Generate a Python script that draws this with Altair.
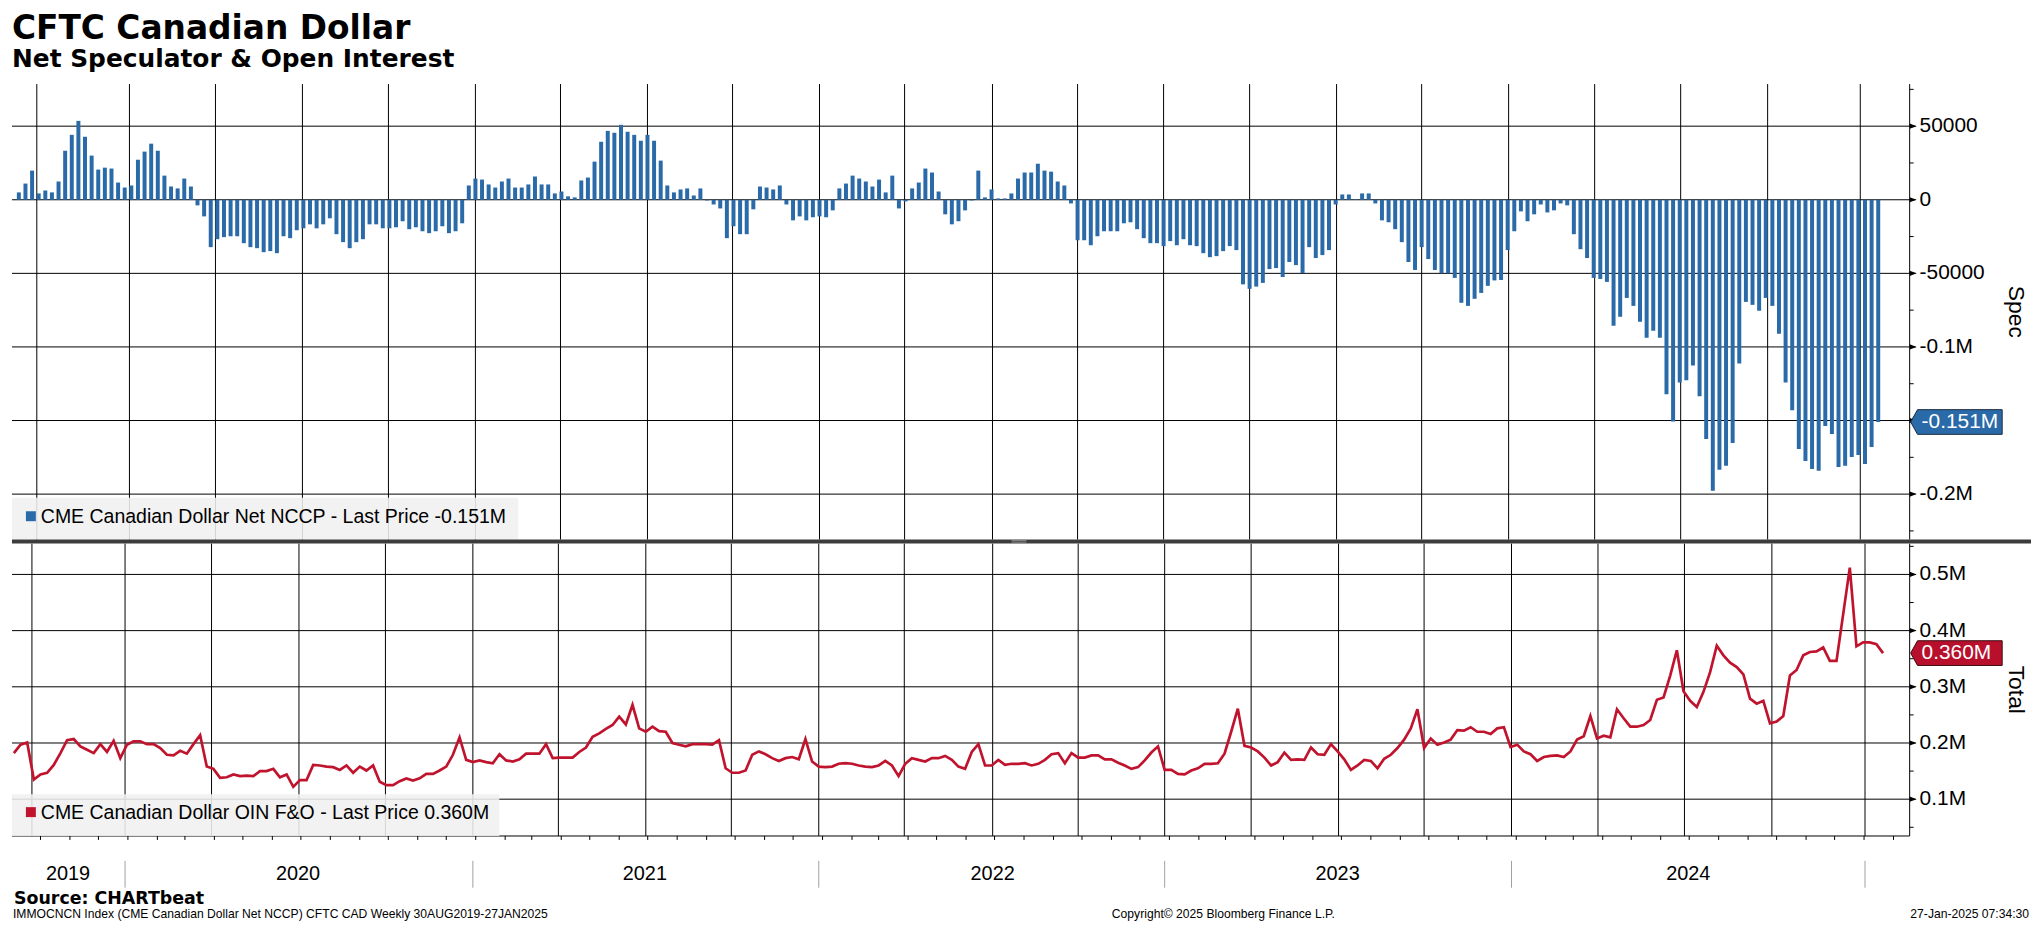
import altair as alt
import pandas as pd

# ---------------- data ----------------
# Net speculative position, thousands of contracts (weekly, Tuesdays)
spec_k = [
    5.0, 11.0, 19.8, 4.3, 6.3, 5.0, 12.4, 33.3, 44.1, 53.6,
    42.8, 30.0, 20.5, 21.8, 21.2, 11.7, 8.3, 9.7, 27.2, 32.7,
    38.1, 33.3, 16.4, 9.0, 7.7, 14.4, 9.0, -3.8, -11.3, -32.2,
    -26.8, -25.4, -24.8, -24.8, -29.5, -32.2, -32.9, -35.6, -34.9, -36.3,
    -24.8, -26.1, -20.7, -19.4, -16.7, -19.4, -16.7, -12.6, -23.4, -28.8,
    -32.9, -28.8, -26.8, -16.7, -16.7, -19.4, -19.4, -18.7, -14.6, -20.0,
    -18.7, -21.4, -22.7, -21.4, -18.0, -22.7, -21.4, -16.0, 9.7, 14.4,
    13.7, 10.4, 8.3, 12.4, 14.4, 8.3, 8.3, 10.4, 15.8, 10.4,
    10.4, 4.3, 5.6, 2.3, 1.6, 13.1, 15.1, 25.9, 39.4, 46.8,
    45.5, 50.9, 46.2, 44.1, 40.1, 44.1, 40.1, 26.6, 9.7, 5.0,
    7.0, 7.7, 2.9, 7.7, -0.5, -3.2, -5.9, -26.1, -18.0, -23.4,
    -23.4, -6.5, 9.0, 8.3, 7.0, 9.7, -3.2, -14.0, -11.3, -14.0,
    -11.9, -11.3, -11.9, -7.2, 7.7, 11.0, 16.4, 14.4, 12.4, 9.0,
    13.7, 5.0, 16.4, -5.9, -1.1, 7.7, 11.7, 21.2, 18.5, 5.6,
    -9.9, -16.7, -14.6, -7.2, -0.5, 19.8, 1.6, 7.0, 0.9, 0.9,
    4.3, 14.4, 18.5, 18.5, 24.5, 19.8, 19.1, 12.4, 9.7, -2.5,
    -27.5, -27.5, -30.9, -24.8, -21.4, -21.4, -21.4, -16.0, -15.3, -20.0,
    -26.1, -29.5, -29.5, -31.5, -28.1, -30.9, -26.8, -30.9, -31.5, -36.3,
    -39.0, -38.3, -34.9, -31.5, -34.2, -57.5, -60.5, -59.0, -56.5, -47.1,
    -46.4, -52.5, -42.3, -44.4, -49.8, -32.2, -39.6, -37.6, -34.2, -3.2,
    3.6, 3.6, 0.4, 4.3, 4.3, -2.5, -14.0, -15.3, -20.0, -28.8,
    -42.3, -47.7, -32.2, -40.3, -47.7, -50.0, -50.0, -53.1, -70.0, -72.1,
    -67.3, -63.3, -58.5, -54.8, -54.5, -34.2, -21.4, -7.9, -14.6, -9.9,
    -3.2, -8.6, -7.2, -2.5, -3.8, -23.4, -33.6, -39.6, -53.1, -53.8,
    -55.8, -85.6, -79.5, -66.7, -72.1, -82.9, -93.7, -89.0, -93.7, -132.2,
    -150.7, -124.1, -122.7, -112.6, -133.5, -162.6, -197.7, -183.5, -180.8, -165.3,
    -111.3, -69.4, -71.4, -75.4, -66.7, -72.1, -91.0, -124.1, -143.0, -169.4,
    -177.5, -182.9, -184.2, -153.8, -159.2, -181.5, -180.8, -174.8, -173.4, -179.5,
    -168.0, -151.0,
]

# Open interest, millions of contracts
oi_m = [
    0.182, 0.197, 0.201, 0.135, 0.144, 0.147, 0.161, 0.182, 0.205, 0.207,
    0.194, 0.188, 0.182, 0.198, 0.184, 0.204, 0.173, 0.197, 0.203, 0.203,
    0.198, 0.198, 0.191, 0.179, 0.178, 0.186, 0.181, 0.198, 0.214, 0.158,
    0.154, 0.138, 0.139, 0.144, 0.141, 0.142, 0.141, 0.150, 0.150, 0.154,
    0.139, 0.144, 0.122, 0.134, 0.134, 0.161, 0.160, 0.158, 0.157, 0.152,
    0.160, 0.147, 0.158, 0.151, 0.160, 0.131, 0.125, 0.125, 0.132, 0.137,
    0.133, 0.137, 0.145, 0.145, 0.151, 0.158, 0.179, 0.210, 0.170, 0.166,
    0.169, 0.166, 0.164, 0.180, 0.169, 0.167, 0.171, 0.181, 0.181, 0.181,
    0.198, 0.173, 0.174, 0.174, 0.174, 0.184, 0.192, 0.211, 0.217, 0.225,
    0.232, 0.247, 0.233, 0.268, 0.226, 0.220, 0.229, 0.221, 0.220, 0.200,
    0.197, 0.194, 0.198, 0.198, 0.198, 0.197, 0.205, 0.155, 0.147, 0.147,
    0.151, 0.179, 0.185, 0.180, 0.173, 0.168, 0.173, 0.175, 0.171, 0.207,
    0.167, 0.158, 0.157, 0.158, 0.163, 0.164, 0.163, 0.160, 0.158, 0.157,
    0.160, 0.168, 0.160, 0.141, 0.163, 0.173, 0.170, 0.167, 0.173, 0.173,
    0.177, 0.170, 0.158, 0.154, 0.184, 0.198, 0.160, 0.160, 0.170, 0.161,
    0.163, 0.163, 0.164, 0.160, 0.163, 0.170, 0.180, 0.182, 0.164, 0.182,
    0.174, 0.174, 0.178, 0.178, 0.171, 0.171, 0.165, 0.160, 0.154, 0.157,
    0.169, 0.183, 0.194, 0.152, 0.152, 0.145, 0.144, 0.151, 0.155, 0.163,
    0.163, 0.164, 0.181, 0.220, 0.261, 0.195, 0.192, 0.185, 0.174, 0.160,
    0.166, 0.183, 0.170, 0.171, 0.170, 0.192, 0.180, 0.179, 0.198, 0.185,
    0.171, 0.152, 0.160, 0.170, 0.168, 0.155, 0.172, 0.179, 0.191, 0.206,
    0.226, 0.260, 0.191, 0.208, 0.197, 0.201, 0.206, 0.223, 0.222, 0.228,
    0.220, 0.220, 0.216, 0.226, 0.228, 0.193, 0.197, 0.185, 0.180, 0.168,
    0.175, 0.177, 0.178, 0.175, 0.185, 0.206, 0.212, 0.248, 0.208, 0.213,
    0.210, 0.260, 0.244, 0.229, 0.229, 0.232, 0.241, 0.277, 0.281, 0.320,
    0.365, 0.292, 0.275, 0.264, 0.291, 0.326, 0.373, 0.356, 0.343, 0.335,
    0.322, 0.279, 0.270, 0.275, 0.235, 0.238, 0.248, 0.320, 0.330, 0.356,
    0.362, 0.363, 0.370, 0.346, 0.346, 0.429, 0.512, 0.372, 0.379, 0.379,
    0.376, 0.360,
]

dates = pd.date_range("2019-09-03", periods=len(spec_k), freq="7D").strftime("%Y-%m-%d").tolist()

# vertical (quarterly) grid-line positions, as placed in the reference
quarter_dates = [
    "2019-09-22", "2019-12-29", "2020-03-29", "2020-06-29", "2020-09-28",
    "2020-12-29", "2021-03-29", "2021-06-29", "2021-09-27",
    "2021-12-28", "2022-03-28", "2022-06-29", "2022-09-27",
    "2022-12-27", "2023-03-28", "2023-06-28", "2023-09-26",
    "2023-12-27", "2024-03-27", "2024-06-26", "2024-09-26", "2025-01-02",
]
month_dates = pd.date_range("2019-10-01", "2025-02-01", freq="MS").strftime("%Y-%m-%d").tolist()
year_breaks = ["2019-12-29", "2020-12-29", "2021-12-28", "2022-12-27", "2023-12-27", "2025-01-02"]
year_labels = ["2019", "2020", "2021", "2022", "2023", "2024"]
year_label_dates = ["2019-10-30", "2020-06-28", "2021-06-28", "2022-06-29", "2023-06-27", "2024-06-30"]

spec_grid = [50, 0, -50, -100, -150, -200]
spec_label_vals = [50, 0, -50, -100, -200]
spec_label_text = ["50000", "0", "-50000", "-0.1M", "-0.2M"]
spec_minor = [75, 25, -25, -75, -125, -175, -225]
oi_grid = [0.5, 0.4, 0.3, 0.2, 0.1]
oi_label_text = ["0.5M", "0.4M", "0.3M", "0.2M", "0.1M"]
oi_minor = [0.55, 0.45, 0.35, 0.25, 0.15, 0.05]

title_text = "CFTC Canadian Dollar"
subtitle_text = "Net Speculator & Open Interest"
spec_tag = f"{spec_k[-1] / 1000:.3f}M"
oi_tag = f"{oi_m[-1]:.3f}M"
legend_spec = f"CME Canadian Dollar Net NCCP - Last Price {spec_tag}"
legend_oi = f"CME Canadian Dollar OIN F&O - Last Price {oi_tag}"
source_text = "Source: CHARTbeat"
footer_left = "IMMOCNCN Index (CME Canadian Dollar Net NCCP) CFTC CAD  Weekly 30AUG2019-27JAN2025"
footer_mid = "Copyright\u00a9 2025 Bloomberg Finance L.P."
footer_right = "27-Jan-2025 07:34:30"

# ---------------- styling ----------------
W, H1, H2 = 1908, 458, 294
BLUE = "#2a6aa8"
RED = "#c0142e"
RED_TAG = "#b8102c"
BLACK = "#000000"
FONT = "Liberation Sans"
BOLD_FONT = "DejaVu Sans"
TAG = "M-1,0L-0.85,-0.27L1,-0.27L1,0.27L-0.85,0.27Z"
ARROW = "M-1,-0.75L1,0L-1,0.75Z"

df = pd.DataFrame({"date": dates, "spec": spec_k, "oi": oi_m})


def one(**kw):
    return pd.DataFrame({k: [v] for k, v in kw.items()})


x_scale = alt.Scale(
    domain=[alt.DateTime(year=2019, month=9, date=1, utc=True),
            alt.DateTime(year=2025, month=2, date=18, utc=True)],
    nice=False,
)
spec_scale = alt.Scale(domain=[-230.9, 78.6], nice=False, zero=False)
oi_scale = alt.Scale(domain=[0.0345, 0.5549], nice=False, zero=False)


def xn():
    return alt.X("date:T", scale=x_scale, axis=None, title=None)


def yaxis_layers(scale, grid_vals, label_vals, label_text, minor_vals, title, H):
    """Right-hand value axis drawn with marks positioned by the panel's y scale."""
    def yv():
        return alt.Y("v:Q", scale=scale, axis=None, title=None)

    grid = alt.Chart(pd.DataFrame({"v": grid_vals})).mark_rule(color=BLACK, strokeWidth=1).encode(
        x=alt.value(0), x2=alt.value(W), y=yv())
    major = alt.Chart(pd.DataFrame({"v": grid_vals})).mark_rule(color=BLACK, strokeWidth=1).encode(
        x=alt.value(W), x2=alt.value(W + 6), y=yv())
    arrows = alt.Chart(pd.DataFrame({"v": grid_vals})).mark_point(
        shape=ARROW, filled=True, color=BLACK, size=49, opacity=1).encode(
        x=alt.value(W + 3.5), y=yv())
    minor = alt.Chart(pd.DataFrame({"v": minor_vals})).mark_rule(color=BLACK, strokeWidth=1).encode(
        x=alt.value(W), x2=alt.value(W + 4), y=yv())
    labels = alt.Chart(pd.DataFrame({"v": label_vals, "t": label_text})).mark_text(
        align="left", baseline="middle", font=FONT, fontSize=21, color=BLACK).encode(
        x=alt.value(W + 10), y=yv(), text="t:N")
    domain = alt.Chart(one(t="")).mark_rule(color=BLACK, strokeWidth=1).encode(
        x=alt.value(W), y=alt.value(0), y2=alt.value(H))
    ttl = alt.Chart(one(t=title)).mark_text(
        align="center", baseline="bottom", angle=90, font=FONT, fontSize=23, color=BLACK).encode(
        x=alt.value(W + 95), y=alt.value(H / 2), text="t:N")
    return grid, [major, arrows, minor, labels, domain, ttl]


# ---------------- top panel ----------------
grid_top = alt.Chart(pd.DataFrame({"date": quarter_dates})).mark_rule(
    color=BLACK, strokeWidth=1).encode(x=xn())
hgrid_top, axis_top = yaxis_layers(spec_scale, spec_grid, spec_label_vals, spec_label_text,
                                   spec_minor, "Spec", H1)

bars = alt.Chart(df).mark_bar(color=BLUE, size=4).encode(
    x=xn(), y=alt.Y("spec:Q", scale=spec_scale, axis=None))

leg_top_box = alt.Chart(one(t=legend_spec)).mark_rect(color="#f0f0f0", opacity=0.88).encode(
    x=alt.value(0), x2=alt.value(509), y=alt.value(416), y2=alt.value(H1))
leg_top_sq = alt.Chart(one(t=legend_spec)).mark_rect(color=BLUE).encode(
    x=alt.value(14), x2=alt.value(24), y=alt.value(429.5), y2=alt.value(439.5))
leg_top_txt = alt.Chart(one(t=legend_spec)).mark_text(
    align="left", baseline="middle", font=FONT, fontSize=19.6, color=BLACK).encode(
    x=alt.value(29), y=alt.value(435), text="t:N")

tag_top = alt.Chart(one(v=spec_k[-1])).mark_point(
    shape=TAG, filled=True, color=BLUE, stroke="#1b2a40", strokeWidth=1, size=92 * 92, opacity=1).encode(
    x=alt.value(W + 47), y=alt.Y("v:Q", scale=spec_scale, axis=None))
tag_top_txt = alt.Chart(one(v=spec_k[-1], t=spec_tag)).mark_text(
    align="left", baseline="middle", font=FONT, fontSize=21, color="#ffffff").encode(
    x=alt.value(W + 12), y=alt.Y("v:Q", scale=spec_scale, axis=None), text="t:N")

title_mark = alt.Chart(one(t=title_text)).mark_text(
    align="left", baseline="alphabetic", font=BOLD_FONT, fontWeight="bold", fontSize=33,
    color=BLACK).encode(x=alt.value(0), y=alt.value(-45), text="t:N")
subtitle_mark = alt.Chart(one(t=subtitle_text)).mark_text(
    align="left", baseline="alphabetic", font=BOLD_FONT, fontWeight="bold", fontSize=25,
    color=BLACK).encode(x=alt.value(0), y=alt.value(-17), text="t:N")
top_bound = alt.Chart(one(t="")).mark_rule(strokeOpacity=0, color="#ffffff").encode(
    x=alt.value(0), y=alt.value(-74), y2=alt.value(-73))

top = alt.layer(
    grid_top, hgrid_top, bars, *axis_top, leg_top_box, leg_top_sq, leg_top_txt,
    tag_top, tag_top_txt, title_mark, subtitle_mark, top_bound,
).properties(width=W, height=H1)

# ---------------- bottom panel ----------------
grid_bot = alt.Chart(pd.DataFrame({"date": quarter_dates})).mark_rule(
    color=BLACK, strokeWidth=1).encode(x=xn())
hgrid_bot, axis_bot = yaxis_layers(oi_scale, oi_grid, oi_grid, oi_label_text, oi_minor, "Total", H2)

line = alt.Chart(df).mark_line(color=RED, strokeWidth=2.7).encode(
    x=xn(), y=alt.Y("oi:Q", scale=oi_scale, axis=None))

x_domain = alt.Chart(one(t="")).mark_rule(color=BLACK, strokeWidth=1).encode(
    x=alt.value(0), x2=alt.value(W), y=alt.value(H2))
month_ticks = alt.Chart(pd.DataFrame({"date": month_dates})).mark_rule(
    color=BLACK, strokeWidth=1).encode(x=xn(), y=alt.value(H2), y2=alt.value(H2 + 4))

leg_bot_box = alt.Chart(one(t=legend_oi)).mark_rect(color="#f0f0f0", opacity=0.88).encode(
    x=alt.value(0), x2=alt.value(490), y=alt.value(252), y2=alt.value(H2))
leg_bot_sq = alt.Chart(one(t=legend_oi)).mark_rect(color=RED).encode(
    x=alt.value(14), x2=alt.value(24), y=alt.value(265), y2=alt.value(275))
leg_bot_txt = alt.Chart(one(t=legend_oi)).mark_text(
    align="left", baseline="middle", font=FONT, fontSize=19.6, color=BLACK).encode(
    x=alt.value(29), y=alt.value(271), text="t:N")

tag_bot = alt.Chart(one(v=oi_m[-1])).mark_point(
    shape=TAG, filled=True, color=RED_TAG, stroke="#3a0a10", strokeWidth=1, size=92 * 92, opacity=1).encode(
    x=alt.value(W + 47), y=alt.Y("v:Q", scale=oi_scale, axis=None))
tag_bot_txt = alt.Chart(one(v=oi_m[-1], t=oi_tag)).mark_text(
    align="left", baseline="middle", font=FONT, fontSize=21, color="#ffffff").encode(
    x=alt.value(W + 12), y=alt.Y("v:Q", scale=oi_scale, axis=None), text="t:N")

separator = alt.Chart(one(t="")).mark_rule(color="#3c3c3c", strokeWidth=4).encode(
    x=alt.value(0), x2=alt.value(2030), y=alt.value(-2))
grip_a = alt.Chart(one(t="")).mark_rule(color="#9a9a9a", strokeWidth=0.8).encode(
    x=alt.value(1005), x2=alt.value(1020), y=alt.value(-3))
grip_b = alt.Chart(one(t="")).mark_rule(color="#9a9a9a", strokeWidth=0.8).encode(
    x=alt.value(1005), x2=alt.value(1020), y=alt.value(-1.4))

year_sep = alt.Chart(pd.DataFrame({"date": year_breaks})).mark_rule(
    color="#a0a0a0", strokeWidth=1).encode(x=xn(), y=alt.value(319), y2=alt.value(346))
year_lab = alt.Chart(pd.DataFrame({"date": year_label_dates, "label": year_labels})).mark_text(
    font=FONT, fontSize=20, color=BLACK, baseline="middle", align="center").encode(
    x=xn(), y=alt.value(332), text="label:N")

source_mark = alt.Chart(one(t=source_text)).mark_text(
    align="left", baseline="alphabetic", font=BOLD_FONT, fontWeight="bold", fontSize=17.5,
    color=BLACK).encode(x=alt.value(2), y=alt.value(362), text="t:N")
foot_l = alt.Chart(one(t=footer_left)).mark_text(
    align="left", baseline="alphabetic", font=FONT, fontSize=12.2, color=BLACK).encode(
    x=alt.value(1), y=alt.value(376), text="t:N")
foot_m = alt.Chart(one(t=footer_mid)).mark_text(
    align="center", baseline="alphabetic", font=FONT, fontSize=12.2, color=BLACK).encode(
    x=alt.value(1218), y=alt.value(376), text="t:N")
foot_r = alt.Chart(one(t=footer_right)).mark_text(
    align="right", baseline="alphabetic", font=FONT, fontSize=12.2, color=BLACK).encode(
    x=alt.value(2028), y=alt.value(376), text="t:N")

bottom = alt.layer(
    grid_bot, hgrid_bot, line, *axis_bot, x_domain, month_ticks,
    leg_bot_box, leg_bot_sq, leg_bot_txt, tag_bot, tag_bot_txt,
    separator, grip_a, grip_b, year_sep, year_lab, source_mark, foot_l, foot_m, foot_r,
).properties(width=W, height=H2)

chart = alt.vconcat(top, bottom, spacing=4, bounds="flush").properties(
    padding=0, background="#ffffff"
).configure_view(stroke=None)

chart.save("out.html", embed_options={"renderer": "svg", "actions": False})
